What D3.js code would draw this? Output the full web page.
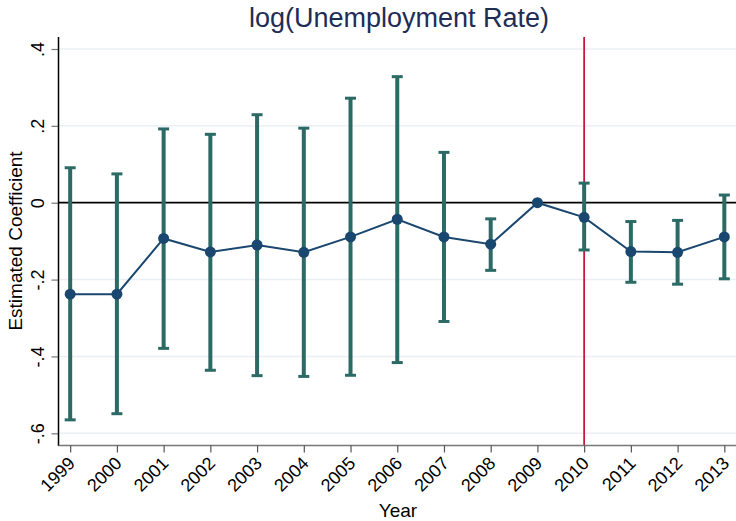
<!DOCTYPE html>
<html><head><meta charset="utf-8">
<script src="https://cdn.jsdelivr.net/npm/d3@7"></script>
<style>body{margin:0;background:#fff}svg{display:block}text{font-family:"Liberation Sans",Arial,sans-serif}</style>
</head><body><div id="chart"></div>
<script>
const years = [1999,2000,2001,2002,2003,2004,2005,2006,2007,2008,2009,2010,2011,2012,2013];
const coef  = [-0.238,-0.238,-0.093,-0.128,-0.110,-0.129,-0.089,-0.043,-0.089,-0.108,0.000,-0.038,-0.127,-0.129,-0.089];
const ciHi  = [0.091,0.075,0.192,0.178,0.229,0.194,0.272,0.328,0.131,-0.042,0.000,0.051,-0.049,-0.046,0.020];
const ciLo  = [-0.565,-0.549,-0.379,-0.436,-0.450,-0.452,-0.449,-0.416,-0.309,-0.176,0.000,-0.123,-0.207,-0.212,-0.198];
const yTicks = [-0.6,-0.4,-0.2,0,0.2,0.4];
const yTickLabels = ["-.6","-.4","-.2","0",".2",".4"];
const refYear = 2010;

const W=736,H=521;
const svg=d3.select("#chart").append("svg").attr("width",W).attr("height",H);
const plotTop=37, plotBottom=445.5, plotLeft=58.5, plotRight=736;
const x=d3.scaleLinear().domain([1998.75,2013.25]).range([plotLeft,plotRight]);
const y=d3.scaleLinear().domain([-0.6,0.4]).range([433.3,49]);

// gridlines
svg.append("g").selectAll("line").data(yTicks.filter(d=>d!==0)).join("line")
  .attr("x1",plotLeft).attr("x2",plotRight).attr("y1",d=>y(d)).attr("y2",d=>y(d))
  .attr("stroke","#eaf0f3").attr("stroke-width",1.5);

// zero line
svg.append("line").attr("x1",plotLeft).attr("x2",plotRight).attr("y1",y(0)).attr("y2",y(0))
  .attr("stroke","#000").attr("stroke-width",1.8);

// reference line
svg.append("line").attr("x1",x(refYear)).attr("x2",x(refYear)).attr("y1",plotTop).attr("y2",plotBottom)
  .attr("stroke","#c8173f").attr("stroke-width",1.8);

// error bars
const data=years.map((yr,i)=>({yr,c:coef[i],hi:ciHi[i],lo:ciLo[i]}));
const withCI=data.filter(d=>d.hi!==d.lo);
const eb=svg.append("g").attr("stroke","#2c6a65");
eb.selectAll("line.v").data(withCI).join("line").attr("class","v")
  .attr("x1",d=>x(d.yr)).attr("x2",d=>x(d.yr)).attr("y1",d=>y(d.hi)).attr("y2",d=>y(d.lo)).attr("stroke-width",4);
eb.selectAll("line.t").data(withCI).join("line").attr("class","t")
  .attr("x1",d=>x(d.yr)-5.5).attr("x2",d=>x(d.yr)+5.5).attr("y1",d=>y(d.hi)).attr("y2",d=>y(d.hi)).attr("stroke-width",3);
eb.selectAll("line.b").data(withCI).join("line").attr("class","b")
  .attr("x1",d=>x(d.yr)-5.5).attr("x2",d=>x(d.yr)+5.5).attr("y1",d=>y(d.lo)).attr("y2",d=>y(d.lo)).attr("stroke-width",3);

// connecting line and markers
svg.append("path").datum(data).attr("fill","none").attr("stroke","#1a476f").attr("stroke-width",2)
  .attr("d",d3.line().x(d=>x(d.yr)).y(d=>y(d.c)));
svg.append("g").selectAll("circle").data(data).join("circle")
  .attr("cx",d=>x(d.yr)).attr("cy",d=>y(d.c)).attr("r",5.5).attr("fill","#1a476f");

// y axis
const yAxis=svg.append("g").attr("transform",`translate(${plotLeft},0)`)
  .call(d3.axisLeft(y).tickValues(yTicks).tickFormat((d,i)=>yTickLabels[i]).tickSize(7).tickPadding(0));
yAxis.select(".domain").remove();
yAxis.selectAll(".tick line").attr("stroke","#777").attr("stroke-width",1.2);
yAxis.selectAll(".tick text").attr("font-size",18).attr("fill","#000")
  .attr("transform","translate(-15,0) rotate(-90)").attr("text-anchor","middle").attr("x",0).attr("dy","0");
svg.append("line").attr("x1",plotLeft).attr("x2",plotLeft).attr("y1",plotTop).attr("y2",plotBottom+0.5)
  .attr("stroke","#000").attr("stroke-width",1.5);

// x axis
const xAxis=svg.append("g").attr("transform",`translate(0,${plotBottom})`)
  .call(d3.axisBottom(x).tickValues(years).tickFormat(d3.format("d")).tickSize(7).tickPadding(0));
xAxis.select(".domain").attr("stroke","#777").attr("stroke-width",1.5).attr("d",`M${plotLeft},0H${plotRight}`);
xAxis.selectAll(".tick line").attr("stroke","#555").attr("stroke-width",1.2);
xAxis.selectAll(".tick text").attr("font-size",18).attr("fill","#000")
  .attr("text-anchor","end").attr("y",0).attr("dy","0")
  .attr("transform","translate(5.5,19) rotate(-45)");

// titles
svg.append("text").attr("x",399).attr("y",27).attr("text-anchor","middle")
  .attr("font-size",27).attr("fill","#1e2d55").text("log(Unemployment Rate)");
svg.append("text").attr("x",398).attr("y",517).attr("text-anchor","middle")
  .attr("font-size",19).attr("fill","#000").text("Year");
svg.append("text").attr("transform",`translate(21.5,241) rotate(-90)`).attr("text-anchor","middle")
  .attr("font-size",19).attr("fill","#000").text("Estimated Coefficient");
</script></body></html>
